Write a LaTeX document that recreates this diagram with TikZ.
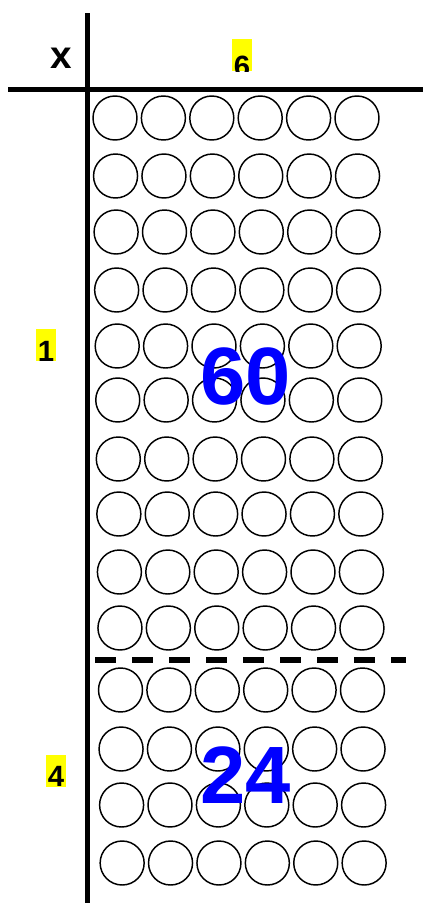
\documentclass[tikz,border=0pt]{standalone}
\usepackage{fontspec}
\newfontfamily\boldsans{Liberation Sans}
\definecolor{cmark}{HTML}{FFFF00}
\definecolor{cprod}{HTML}{0000FF}

\begin{document}
\begin{tikzpicture}[x=0.75pt,y=-0.75pt,
  axis/.style={line width=3.75pt},
  bead/.style={line width=1.1pt},
  factor/.style={font=\boldsans\bfseries\fontsize{22}{22}\selectfont,anchor=base,inner sep=0pt},
  prod/.style={font=\boldsans\bfseries\fontsize{61}{61}\selectfont,text=cprod,anchor=base,inner sep=0pt}]
\useasboundingbox (0,0) rectangle (423,903);
% grid lines
\coordinate (vtop) at (87,13);
\coordinate (vbot) at (87,903);
\coordinate (hleft) at (8,89);
\coordinate (hright) at (423,89);
\coordinate (cutl) at (95,660);
\coordinate (cutr) at (406,660);
\draw[axis] (vtop) -- (vbot);
\draw[axis] (hleft) -- (hright);
\draw[line width=4.5pt,dash pattern=on 15.75pt off 12pt] (cutl) -- (cutr);
% headers
\node[font=\boldsans\bfseries\fontsize{29}{29}\selectfont,anchor=base,inner sep=0pt] (times) at (61,68) {x};
\fill[cmark] (232,39) rectangle (252,71);
\begin{scope}
  \clip (232,39) rectangle (252,71);
  \node[factor] (six) at (242,76) {6};
\end{scope}
\fill[cmark] (36,329) rectangle (56,361);
\node[factor] (one) at (46,361) {1};
\fill[cmark] (46,755) rectangle (66,787);
\node[factor] (four) at (56,786) {4};
% beads
\foreach \y [count=\r] in {118,176,232,290,346,400,459,514,572,628,690,749,805,863}
  \foreach \c in {0,...,5}
    \draw[bead] ({115+0.55*(\r-1)+48.4*\c},\y) circle[radius=22];
% products
\node[prod] (sixty) at (246,404) {60};
\node[prod] (twentyfour) at (246,803) {24};
\end{tikzpicture}
\end{document}
